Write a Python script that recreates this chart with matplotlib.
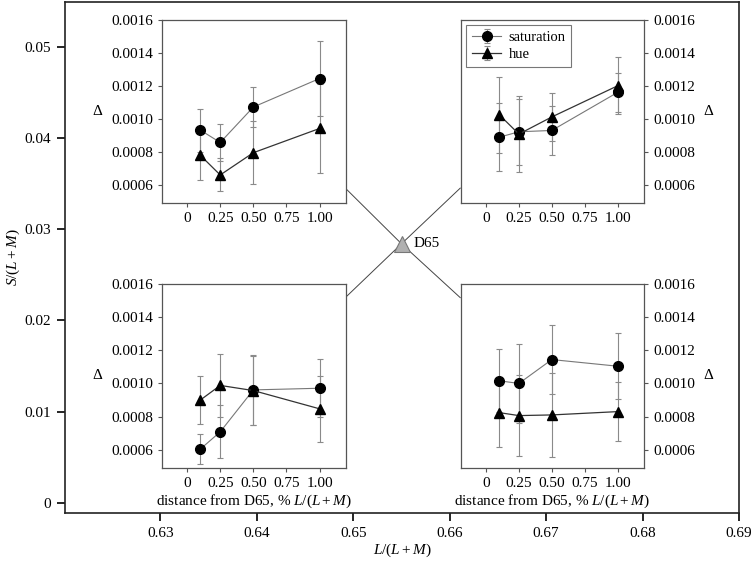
import matplotlib
matplotlib.use('Agg')
import matplotlib.pyplot as plt
from matplotlib.ticker import FuncFormatter

plt.rcParams['font.family'] = ['Liberation Serif', 'DejaVu Serif']
plt.rcParams['mathtext.fontset'] = 'custom'
plt.rcParams['mathtext.rm'] = 'Liberation Serif'
plt.rcParams['mathtext.it'] = 'Liberation Serif:italic'

# distance from D65 (% L/(L+M))
dist = [0.1, 0.25, 0.5, 1.0]
dist_ticks = [0, 0.25, 0.5, 0.75, 1.0]

# D65 white point
d65_x = 0.655
d65_y = 0.0284

# upper left inset
ul_sat = [0.000932, 0.000857, 0.001072, 0.001245]
ul_sat_err = [0.00013, 0.00011, 0.00012, 0.00023]
ul_hue = [0.000779, 0.00066, 0.000795, 0.000942]
ul_hue_err = [0.00015, 0.0001, 0.00019, 0.00027]

# upper right inset
ur_sat = [0.000889, 0.000922, 0.00093, 0.001161]
ur_sat_err = [0.000206, 0.0002, 0.00015, 0.000116]
ur_hue = [0.001026, 0.000908, 0.001012, 0.001201]
ur_hue_err = [0.00023, 0.00023, 0.000143, 0.000173]

# lower left inset
ll_sat = [0.000604, 0.000708, 0.000961, 0.000971]
ll_sat_err = [0.00009, 0.00016, 0.00021, 0.000176]
ll_hue = [0.0009, 0.000988, 0.000957, 0.000847]
ll_hue_err = [0.000147, 0.00019, 0.00021, 0.0002]

# lower right inset
lr_sat = [0.001016, 0.001, 0.001144, 0.001104]
lr_sat_err = [0.00019, 0.00024, 0.00021, 0.0002]
lr_hue = [0.000824, 0.000806, 0.00081, 0.00083]
lr_hue_err = [0.00021, 0.000245, 0.000254, 0.00018]

fs = 11

fig = plt.figure(figsize=(7.53, 5.62), dpi=100)
ax = fig.add_axes([0.0863, 0.0872, 0.8951, 0.9093])
ax.set_xlim(0.6201, 0.69)
ax.set_ylim(-0.0011, 0.0549)
ax.set_xticks([0.63, 0.64, 0.65, 0.66, 0.67, 0.68, 0.69])
ax.set_yticks([0, 0.01, 0.02, 0.03, 0.04, 0.05])
ax.xaxis.set_major_formatter(FuncFormatter(lambda v, p: f'{v:.2f}'))
ax.yaxis.set_major_formatter(FuncFormatter(lambda v, p: '0' if abs(v) < 1e-9 else f'{v:.2f}'))
ax.tick_params(direction='out', length=6, width=1.2, labelsize=fs, pad=4)
for s in ax.spines.values():
    s.set_linewidth(1.2)
    s.set_color('#222222')
ax.set_xlabel(r'$L/(L+M)$', fontsize=fs, labelpad=1)
ax.set_ylabel(r'$S/(L+M)$', fontsize=fs, labelpad=2)

# lines from D65 towards the insets
ends = [(0.64927, 0.0344), (0.66109, 0.0345), (0.64927, 0.0226), (0.66109, 0.0225)]
for ex, ey in ends:
    ax.plot([d65_x, ex], [d65_y, ey], color='#444444', lw=0.7, zorder=1)
ax.plot(d65_x, d65_y, marker='^', ms=11, color='#b0b0b0', mec='#777777', mew=0.8, zorder=3)
ax.text(d65_x + 0.0012, d65_y, 'D65', fontsize=fs, va='center', ha='left')

insets = [
    ([0.2151, 0.6388, 0.2444, 0.3256], ul_sat, ul_sat_err, ul_hue, ul_hue_err, 'left', False, False),
    ([0.6122, 0.6388, 0.2430, 0.3256], ur_sat, ur_sat_err, ur_hue, ur_hue_err, 'right', False, True),
    ([0.2151, 0.1673, 0.2444, 0.3274], ll_sat, ll_sat_err, ll_hue, ll_hue_err, 'left', True, False),
    ([0.6122, 0.1673, 0.2430, 0.3274], lr_sat, lr_sat_err, lr_hue, lr_hue_err, 'right', True, False),
]

for pos, sat, sat_err, hue, hue_err, side, xlab, leg in insets:
    ia = fig.add_axes(pos)
    ia.errorbar(dist, sat, yerr=sat_err, color='#777777', lw=0.8, ecolor='#8a8a8a',
                elinewidth=0.8, capsize=2.5, capthick=0.8, marker='o', ms=7,
                mfc='black', mec='black', label='saturation')
    ia.errorbar(dist, hue, yerr=hue_err, color='#333333', lw=0.9, ecolor='#8a8a8a',
                elinewidth=0.8, capsize=2.5, capthick=0.8, marker='^', ms=7.5,
                mfc='black', mec='black', label='hue')
    ia.set_xlim(-0.19, 1.2)
    ia.set_ylim(0.00049, 0.0016)
    ia.set_xticks(dist_ticks)
    ia.set_yticks([0.0006, 0.0008, 0.0010, 0.0012, 0.0014, 0.0016])
    ia.xaxis.set_major_formatter(FuncFormatter(lambda v, p: '0' if v == 0 else f'{v:.2f}'))
    ia.yaxis.set_major_formatter(FuncFormatter(lambda v, p: f'{v:.4f}'))
    ia.tick_params(direction='out', length=3, width=0.8, labelsize=fs, color='#555555')
    for s in ia.spines.values():
        s.set_linewidth(0.9)
        s.set_color('#555555')
    if side == 'right':
        ia.yaxis.tick_right()
        ia.yaxis.set_label_position('right')
    ia.set_ylabel('Δ', rotation=0, fontsize=fs, labelpad=10, va='center')
    if xlab:
        ia.set_xlabel('distance from D65, ' + r'$\%\ L/(L+M)$', fontsize=fs, labelpad=2)
    if leg:
        lg = ia.legend(loc='upper left', fontsize=10.5, fancybox=False, framealpha=1,
                       edgecolor='#777777', handlelength=2.0, labelspacing=0.25,
                       borderaxespad=0.35, handletextpad=0.5)
        lg.get_frame().set_linewidth(0.8)

fig.savefig('out.png', dpi=100)
